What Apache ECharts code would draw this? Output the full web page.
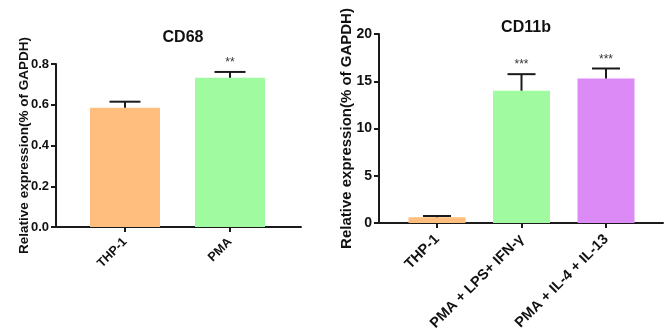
<!DOCTYPE html>
<html><head><meta charset="utf-8">
<script src="https://cdn.jsdelivr.net/npm/echarts@6/dist/echarts.min.js"></script>
<style>html,body{margin:0;padding:0;background:#fff}#c{width:667px;height:336px}</style>
</head><body><div id="c"></div>
<script>
const cd68Categories = ['THP-1', 'PMA'];
const cd68Means = [0.585, 0.733];
const cd68Err = [0.03, 0.028];
const cd68Stars = ['', '**'];
const cd68Ticks = ['0.0', '0.2', '0.4', '0.6', '0.8'];

const cd11bCategories = ['THP-1', 'PMA + LPS+ IFN-\u03b3', 'PMA + IL-4 + IL-13'];
const cd11bMeans = [0.6, 14.0, 15.3];
const cd11bErr = [0.14, 1.75, 1.05];
const cd11bStars = ['', '***', '***'];
const cd11bTicks = ['0', '5', '10', '15', '20'];

const barColorsLeft = ['#FFBE7E', '#A0FBA0'];
const barColorsRight = ['#FFBE7E', '#A0FBA0', '#DC8AF6'];

const FF = "'Liberation Sans', Arial, sans-serif";
const AX = '#1a1a1a';

function errSeries(xi, yi, means, errs, stars, cap) {
  return {
    type: 'custom', xAxisIndex: xi, yAxisIndex: yi, z: 5,
    data: means.map((m, i) => [i, m, m + errs[i]]),
    renderItem: function (params, api) {
      const b = api.coord([api.value(0), api.value(1)]);
      const t = api.coord([api.value(0), api.value(2)]);
      const st = stars[params.dataIndex];
      const ch = [
        { type: 'line', shape: { x1: b[0], y1: b[1], x2: t[0], y2: t[1] }, style: { stroke: AX, lineWidth: 2 } },
        { type: 'line', shape: { x1: t[0] - cap / 2, y1: t[1], x2: t[0] + cap / 2, y2: t[1] }, style: { stroke: AX, lineWidth: 2 } }
      ];
      if (st) ch.push({ type: 'text', style: { text: st, x: t[0], y: t[1] - 3, textAlign: 'center', textVerticalAlign: 'bottom', fill: '#333', font: '12px ' + FF } });
      return { type: 'group', children: ch };
    }
  };
}

const chart = echarts.init(document.getElementById('c'), null, { renderer: 'canvas' });
const hiddenAxis = { axisLine: { show: false }, axisTick: { show: false }, axisLabel: { show: false }, splitLine: { show: false } };

chart.setOption({
  animation: false,
  backgroundColor: '#fff',
  title: [
    { text: 'CD68', left: 178, top: 25, textAlign: 'center', textStyle: { fontFamily: FF, fontWeight: 'bold', fontSize: 16, color: '#111' } },
    { text: 'CD11b', left: 521, top: 15, textAlign: 'center', textStyle: { fontFamily: FF, fontWeight: 'bold', fontSize: 16, color: '#111' } }
  ],
  grid: [
    { left: 56, top: 64, width: 245, height: 163 },
    { left: 72.5, top: 64, width: 210, height: 163 },
    { left: 379, top: 34, width: 284, height: 189 },
    { left: 394.75, top: 34, width: 253.5, height: 189 }
  ],
  xAxis: [
    Object.assign({ type: 'value', gridIndex: 0, min: 0, max: 1 }, hiddenAxis, { axisLine: { show: true, onZero: false, lineStyle: { color: AX, width: 2 } } }),
    { type: 'category', gridIndex: 1, data: cd68Categories, axisLine: { show: false }, axisTick: { show: true, alignWithLabel: true, length: 5, lineStyle: { color: AX, width: 2 } },
      axisLabel: { rotate: 45, margin: 13, fontFamily: FF, fontWeight: 'bold', fontSize: 12.5, color: '#111', interval: 0 } },
    Object.assign({ type: 'value', gridIndex: 2, min: 0, max: 1 }, hiddenAxis, { axisLine: { show: true, onZero: false, lineStyle: { color: AX, width: 2 } } }),
    { type: 'category', gridIndex: 3, data: cd11bCategories, axisLine: { show: false }, axisTick: { show: true, alignWithLabel: true, length: 5, lineStyle: { color: AX, width: 2 } },
      axisLabel: { rotate: 45, margin: 14, fontFamily: FF, fontWeight: 'bold', fontSize: 14.5, color: '#111', interval: 0 } }
  ],
  yAxis: [
    { type: 'value', gridIndex: 0, min: 0, max: 0.8, interval: 0.2,
      name: 'Relative expression(% of GAPDH)', nameLocation: 'middle', nameGap: 25, nameRotate: 90, nameMoveOverlap: false,
      nameTextStyle: { fontFamily: FF, fontWeight: 'bold', fontSize: 13.5, color: '#111' },
      axisLine: { show: true, lineStyle: { color: AX, width: 2 } },
      axisTick: { show: true, length: 5, lineStyle: { color: AX, width: 2 } },
      axisLabel: { margin: 7, fontFamily: FF, fontWeight: 'bold', fontSize: 13, color: '#111', formatter: (v, i) => cd68Ticks[i] },
      splitLine: { show: false } },
    Object.assign({ type: 'value', gridIndex: 1, min: 0, max: 0.8, interval: 0.2 }, hiddenAxis),
    { type: 'value', gridIndex: 2, min: 0, max: 20, interval: 5,
      name: 'Relative expression(% of GAPDH)', nameLocation: 'middle', nameGap: 25, nameRotate: 90, nameMoveOverlap: false,
      nameTextStyle: { fontFamily: FF, fontWeight: 'bold', fontSize: 15, color: '#111' },
      axisLine: { show: true, lineStyle: { color: AX, width: 2 } },
      axisTick: { show: true, length: 5, lineStyle: { color: AX, width: 2 } },
      axisLabel: { margin: 7, fontFamily: FF, fontWeight: 'bold', fontSize: 14, color: '#111', formatter: (v, i) => cd11bTicks[i] },
      splitLine: { show: false } },
    Object.assign({ type: 'value', gridIndex: 3, min: 0, max: 20, interval: 5 }, hiddenAxis)
  ],
  series: [
    { type: 'bar', xAxisIndex: 1, yAxisIndex: 1, barWidth: 70, z: 2,
      data: cd68Means.map((v, i) => ({ value: v, itemStyle: { color: barColorsLeft[i] } })) },
    errSeries(1, 1, cd68Means, cd68Err, cd68Stars, 31),
    { type: 'bar', xAxisIndex: 3, yAxisIndex: 3, barWidth: 57, z: 2,
      data: cd11bMeans.map((v, i) => ({ value: v, itemStyle: { color: barColorsRight[i] } })) },
    errSeries(3, 3, cd11bMeans, cd11bErr, cd11bStars, 28)
  ]
});
</script>
</body></html>
